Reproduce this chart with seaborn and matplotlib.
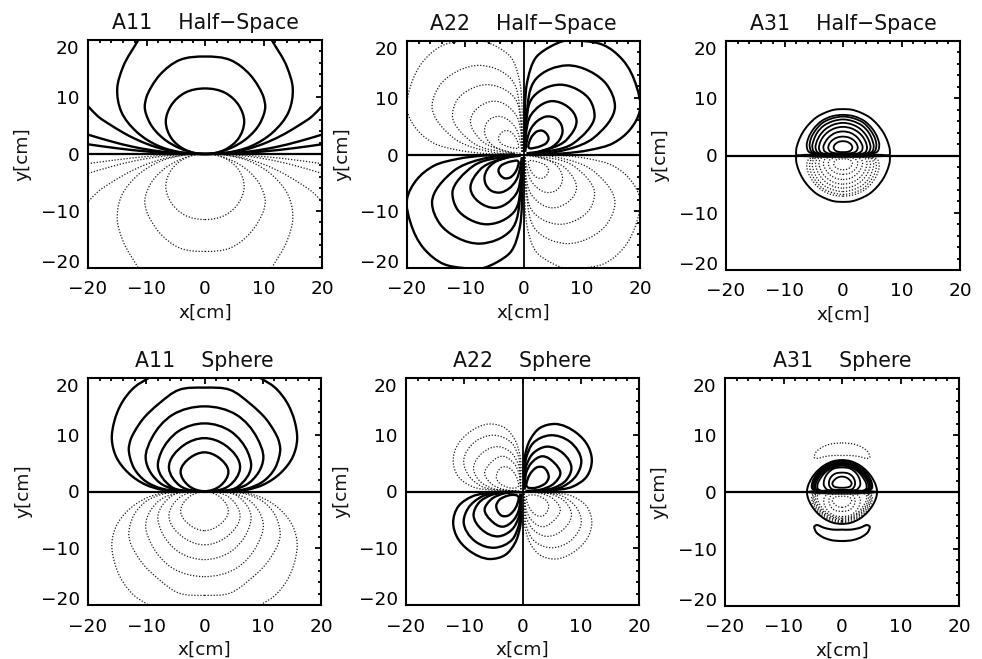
import numpy as np
import pandas as pd
import matplotlib
matplotlib.use('Agg')
import matplotlib.pyplot as plt
from matplotlib.path import Path
from matplotlib.patches import PathPatch
from matplotlib.ticker import MultipleLocator
from matplotlib.transforms import ScaledTranslation
import seaborn as sns

TICKS = [-20, -10, 0, 10, 20]
TITLES = ['A11    Half\u2212Space', 'A22    Half\u2212Space', 'A31    Half\u2212Space',
          'A11    Sphere', 'A22    Sphere', 'A31    Sphere']

# right half of each contour, (x, y) in cm
a11_half = [
    [(0, 11.5), (3.5, 10.7), (5.8, 8.5), (6.7, 5.7), (5.7, 2.7), (3.5, 0.8), (0, 0)],
    [(0, 17.1), (4.3, 16.5), (7.7, 13.9), (10, 10), (10.3, 8.3), (9.4, 5.4), (7.1, 2.7), (4.3, 1), (1.5, 0.1), (0, 0)],
    [(11.4, 20), (14, 15.3), (15, 11.5), (14.3, 7.4), (11.7, 3.9), (7.7, 1.3), (3.5, 0.2), (0, 0)],
    [(20, 8.4), (18.3, 6.6), (16, 5), (13, 3.2), (10, 1.8), (7, 0.8), (4, 0.25), (1.5, 0.03), (0, 0)],
    [(20, 3.4), (16, 2.2), (12, 1.2), (8, 0.5), (4, 0.12), (0, 0)],
    [(20, 1.7), (15, 1.0), (10, 0.45), (5, 0.1), (0, 0)],
]
a11_sphere = [
    [(0, 6.9), (2.4, 6), (4.1, 3.5), (2.7, 1), (0, 0.05)],
    [(0, 9.4), (3.5, 8.2), (6.1, 4.1), (4.2, 1), (0, 0.05)],
    [(0, 12), (4.5, 10.6), (7.4, 7), (8, 4.4), (5.8, 0.9), (0, 0.05)],
    [(0, 15), (5.5, 13.5), (9, 9.5), (10.1, 5.9), (7.5, 1.4), (3, 0.1), (0, 0.05)],
    [(0, 18.3), (4.4, 17.9), (7.8, 15.5), (10.7, 12.6), (12.7, 9.1), (13, 7.6), (12.1, 4.1), (10.1, 1.8), (7.3, 0.5), (4.4, 0.1), (0, 0.05)],
    [(9.6, 20), (12, 18.4), (14.2, 15.6), (15.5, 12.3), (15.9, 9.1), (15.2, 6.2), (13, 3.2), (10.1, 1.2), (7.3, 0.3), (4, 0.1), (0, 0.05)],
]

# first quadrant lobes, used again in the other three quadrants
a22_half = [
    [(0.9, 1.2), (1.0, 2.2), (1.6, 3.4), (2.4, 4.1), (3.2, 4.2), (4.0, 3.6), (4.3, 2.8), (3.9, 2.0), (3.0, 1.5), (2, 1.2), (0.9, 1.2)],
    [(0.3, 0.5), (0.6, 2.5), (1.3, 4.6), (2.5, 6), (4, 6.7), (5.5, 6.4), (6.5, 5.2), (6.7, 4), (6.2, 2.6), (5, 1.4), (3, 0.6), (0.5, 0.2)],
    [(0.2, 0.5), (0.4, 3.5), (1.3, 7), (4.9, 9.4), (9.1, 6), (7.4, 2.6), (1.5, 0.1)],
    [(0.2, 0.5), (0.4, 5), (1.7, 10.2), (6.3, 12.3), (11.4, 9.6), (12.2, 6.7), (8.6, 2), (1.5, 0.1)],
    [(0.2, 0.5), (0.5, 7), (2.3, 13.5), (7.4, 15.7), (14.3, 12.3), (15.7, 8.5), (12, 2.9), (4, 0.2), (1.5, 0.05)],
    [(0.2, 0.5), (0.3, 9.6), (0.6, 12.6), (2.3, 17.3), (4.6, 19), (6.9, 20), (10.3, 20), (13.7, 19.3), (17, 16.7), (19.4, 12), (20, 7.9), (18.3, 4.4), (15.4, 2), (11.4, 0.8), (6.9, 0.2), (1.5, 0.05)],
]
a22_sphere = [
    [(0.8, 0.8), (0.9, 2.2), (1.6, 3.5), (2.6, 4.3), (3.5, 4.3), (4.3, 3.4), (4.5, 2.5), (4, 1.5), (3, 0.9), (1.8, 0.6), (0.8, 0.8)],
    [(0.3, 0.4), (0.7, 3.5), (1.5, 5), (3.4, 6.2), (5.5, 5), (6.5, 3.2), (5.5, 1.5), (3, 0.3), (0.5, 0.1)],
    [(0.3, 0.4), (0.7, 4.7), (1.8, 6.7), (4.1, 7.9), (7, 6.7), (8.4, 4.1), (7.5, 2), (5.3, 0.6), (1.5, 0.1)],
    [(0.3, 0.4), (0.7, 6.2), (1.8, 8.5), (4.7, 9.9), (8.1, 8.8), (10.1, 5.3), (9.3, 2.9), (7, 0.9), (2, 0.1)],
    [(0.3, 0.4), (0.4, 6.2), (1.3, 9.1), (3, 11.2), (5.5, 11.9), (9.3, 10.3), (11.3, 7.9), (11.9, 5.6), (11, 2.6), (8.7, 0.9), (4.7, 0.2), (1, 0.05)],
]

a31_half_outer = [(0, 8.1), (1.5, 8), (3, 7.5), (4.5, 6.7), (5.8, 5.5), (6.9, 4), (7.6, 2.5), (8, 1), (8, 0.1)]
a31_half = [
    [(0, 7.1), (1.9, 6.85), (3.7, 6), (5, 4.7), (5.9, 3.1), (6.2, 1.7), (5.9, 0.7), (5, 0.3), (0, 0.2)],
    [(0, 6.8), (1.8, 6.5), (3.5, 5.7), (4.7, 4.4), (5.5, 2.9), (5.7, 1.6), (5.4, 0.7), (4.6, 0.3), (0, 0.2)],
    [(0, 6.3), (1.7, 6), (3.3, 5.2), (4.4, 4), (5, 2.7), (5.25, 1.5), (5, 0.7), (4.3, 0.3), (0, 0.2)],
    [(0, 5.7), (1.6, 5.4), (3, 4.6), (3.9, 3.6), (4.5, 2.4), (4.7, 1.4), (4.4, 0.6), (3.8, 0.3), (0, 0.2)],
    [(0, 5), (1.4, 4.75), (2.7, 4), (3.5, 3.1), (4, 2), (4.1, 1.2), (3.8, 0.55), (3.2, 0.3), (0, 0.25)],
    [(0, 4.2), (1.3, 3.95), (2.4, 3.2), (3, 2.4), (3.35, 1.5), (3.2, 0.8), (2.6, 0.4), (0, 0.3)],
    [(0, 3.3), (1.1, 3.1), (1.9, 2.6), (2.4, 1.9), (2.5, 1.2), (2.2, 0.7), (1.6, 0.45), (0, 0.4)],
    [(0, 2.5), (0.8, 2.35), (1.4, 1.9), (1.6, 1.4), (1.35, 0.9), (0.8, 0.65), (0, 0.6)],
]
a31_sphere_outer = [(0, 5.6), (1.5, 5.4), (3, 4.7), (4.3, 3.6), (5.2, 2.4), (5.8, 1.1), (6, 0.1)]
a31_sphere = [
    [(0, 5.4), (1.8, 5.05), (3.4, 4.1), (4.5, 2.9), (5.1, 1.6), (5.1, 0.6), (4.4, 0.2), (0, 0.2)],
    [(0, 5.2), (1.7, 4.85), (3.3, 3.9), (4.3, 2.8), (4.9, 1.6), (4.9, 0.6), (4.2, 0.2), (0, 0.2)],
    [(0, 5), (1.7, 4.65), (3.1, 3.8), (4.1, 2.7), (4.7, 1.5), (4.7, 0.6), (4, 0.2), (0, 0.2)],
    [(0, 4.8), (1.6, 4.45), (3, 3.6), (3.9, 2.6), (4.45, 1.5), (4.45, 0.6), (3.8, 0.2), (0, 0.2)],
    [(0, 4.6), (1.5, 4.3), (2.8, 3.5), (3.6, 2.5), (4.15, 1.4), (4.15, 0.6), (3.5, 0.2), (0, 0.2)],
    [(0, 4.3), (1.4, 4.1), (2.5, 3.2), (3.05, 2.1), (3.1, 1.2), (2.6, 0.45), (0, 0.3)],
    [(0, 3.4), (1.2, 3.2), (1.9, 2.6), (2.2, 1.9), (2.2, 1.2), (1.8, 0.55), (0, 0.4)],
    [(0, 2.7), (0.8, 2.5), (1.4, 2.0), (1.65, 1.5), (1.4, 1.0), (0.8, 0.8), (0, 0.75)],
]
a31_crescent_top = [(0, 8.6), (2, 8.4), (3.5, 7.8), (4.5, 6.9), (4.7, 6), (4.2, 5.9), (3, 6.2), (1.5, 6.4), (0, 6.4)]
a31_crescent_bottom = [(0, -8.6), (2, -8.4), (3.5, -7.8), (4.5, -6.9), (4.7, -6), (4.3, -5.8), (3, -6.3), (1.5, -6.6), (0, -6.6)]

# axes boxes in pixels: left, right, top, bottom
PANELS = [(88, 322, 40, 268), (407, 640, 41, 268), (726, 960, 41, 270),
          (88, 321, 378, 605), (406, 639, 378, 605), (725, 959, 378, 606)]
W, H = 982, 659


def mirrored(half, sy=1):
    """Walk the right half of a contour, then its left half back"""
    right = [(x, sy * y) for x, y in half]
    left = [(-x, y) for x, y in right][::-1]
    if right[-1] == left[0]:
        left = left[1:]
    return right + left


def flipped(lobe, sx, sy):
    return [(sx * x, sy * y) for x, y in lobe]


def curve_path(pts, smooth_seam=True):
    """Bezier path going through every read point"""
    pts = np.array(pts, dtype=float)
    # drop a point repeated where the two halves meet
    keep = np.r_[True, np.hypot(*np.diff(pts, axis=0).T) > 0]
    pts = pts[keep]
    seg = np.diff(pts, axis=0)
    d = np.hypot(seg[:, 0], seg[:, 1])
    # tangents weighted by the chord lengths on either side
    tang = np.zeros_like(pts)
    tang[0] = seg[0]
    tang[-1] = seg[-1]
    for i in range(1, len(pts) - 1):
        tang[i] = (seg[i - 1] / d[i - 1] * d[i] + seg[i] / d[i] * d[i - 1]) / (d[i - 1] + d[i])
    # a closed contour has no end, so its seam gets a tangent too
    if smooth_seam and np.allclose(pts[0], pts[-1]):
        tang[0] = tang[-1] = (seg[-1] / d[-1] * d[0] + seg[0] / d[0] * d[-1]) / (d[-1] + d[0])
    norm = np.hypot(tang[:, 0], tang[:, 1])
    norm[norm == 0] = 1
    tang = tang / norm[:, None]
    verts = [pts[0]]
    codes = [Path.MOVETO]
    for i in range(len(pts) - 1):
        # keep the handles short where a long chord meets a short one
        before = d[i - 1] if i > 0 else d[-1]
        after = d[i + 1] if i < len(d) - 1 else d[0]
        arm0 = min(d[i], 1.5 * before) / 3
        arm1 = min(d[i], 1.5 * after) / 3
        verts += [pts[i] + tang[i] * arm0, pts[i + 1] - tang[i + 1] * arm1, pts[i + 1]]
        codes += [Path.CURVE4] * 3
    return Path(verts, codes)


def draw(ax, pts, dotted=False, lw=1.7):
    if dotted:
        patch = PathPatch(curve_path(pts), fill=False, edgecolor='#1a1a1a', lw=0.9,
                          linestyle=(0, (1, 1.4)))
    else:
        patch = PathPatch(curve_path(pts), fill=False, edgecolor='black', lw=lw,
                          joinstyle='round')
    ax.add_patch(patch)


def axis_line(ax, xs, ys, lw=1.6):
    df = pd.DataFrame({'x': xs, 'y': ys})
    sns.lineplot(data=df, x='x', y='y', ax=ax, sort=False, estimator=None, errorbar=None,
                 color='black', lw=lw)


def style_axes(ax, title):
    ax.set_xlim(-20, 20)
    ax.set_ylim(-20, 20)
    ax.set_xticks(TICKS)
    ax.set_yticks(TICKS)
    ax.set_xticklabels([str(t).replace('-', '\u2212') for t in TICKS])
    ax.set_yticklabels([str(t).replace('-', '\u2212') for t in TICKS])
    ax.xaxis.set_minor_locator(MultipleLocator(2))
    ax.yaxis.set_minor_locator(MultipleLocator(2))
    ax.tick_params(which='major', direction='in', top=True, right=True, length=4.5, width=1.3,
                   labelsize=13.3)
    ax.tick_params(which='minor', direction='in', top=True, right=True, length=2.2, width=1.3)
    ax.tick_params(axis='x', which='major', pad=9)
    ax.tick_params(axis='y', which='major', pad=6)
    ax.set_xlabel('x[cm]', fontsize=13.3, labelpad=3.5)
    ax.set_ylabel('y[cm]', fontsize=13.3)
    ax.yaxis.set_label_coords(-0.24, 0.5)
    ax.set_title(title, fontsize=14.8, pad=8)
    for side in ax.spines.values():
        side.set_linewidth(1.5)
        side.set_visible(True)
    # the +-20 labels sit a little inside the frame
    labels = ax.get_yticklabels()
    fig = ax.figure
    labels[0].set_transform(labels[0].get_transform() + ScaledTranslation(0, 5 / 72, fig.dpi_scale_trans))
    labels[-1].set_transform(labels[-1].get_transform() + ScaledTranslation(0, -5 / 72, fig.dpi_scale_trans))


def halves_panel(ax, loops):
    for loop in loops:
        draw(ax, mirrored(loop))
        draw(ax, mirrored(loop, sy=-1), dotted=True)
    axis_line(ax, [-20, 20], [0, 0])


def quadrant_panel(ax, lobes):
    for lobe in lobes:
        draw(ax, lobe)
        draw(ax, flipped(lobe, -1, -1))
        draw(ax, flipped(lobe, -1, 1), dotted=True)
        draw(ax, flipped(lobe, 1, -1), dotted=True)
    axis_line(ax, [-20, 20], [0, 0])
    axis_line(ax, [0, 0], [-20, 20], lw=1.3)


def ring_panel(ax, outer, loops):
    draw(ax, mirrored(outer), lw=1.4)
    draw(ax, mirrored(outer, sy=-1), lw=1.4)
    for loop in loops:
        draw(ax, mirrored(loop), lw=1.3)
        draw(ax, mirrored(loop, sy=-1), dotted=True)
    axis_line(ax, [-20, 20], [0, 0])


if __name__ == "__main__":
    sns.set_theme(style='white')
    plt.rcParams['font.family'] = ['DejaVu Sans']
    plt.rcParams['axes.edgecolor'] = 'black'
    plt.rcParams['text.color'] = '#111111'
    plt.rcParams['xtick.color'] = 'black'
    plt.rcParams['ytick.color'] = 'black'
    plt.rcParams['axes.labelcolor'] = '#111111'

    fig = plt.figure(figsize=(W / 100, H / 100), dpi=100)
    axes = []
    for left, right, top, bottom in PANELS:
        axes.append(fig.add_axes([left / W, 1 - bottom / H, (right - left) / W, (bottom - top) / H]))

    halves_panel(axes[0], a11_half)
    quadrant_panel(axes[1], a22_half)
    ring_panel(axes[2], a31_half_outer, a31_half)
    halves_panel(axes[3], a11_sphere)
    quadrant_panel(axes[4], a22_sphere)
    ring_panel(axes[5], a31_sphere_outer, a31_sphere)
    draw(axes[5], mirrored(a31_crescent_top), dotted=True)
    draw(axes[5], mirrored(a31_crescent_bottom), lw=1.5)

    for ax, title in zip(axes, TITLES):
        style_axes(ax, title)

    fig.savefig('out.png', dpi=100)
